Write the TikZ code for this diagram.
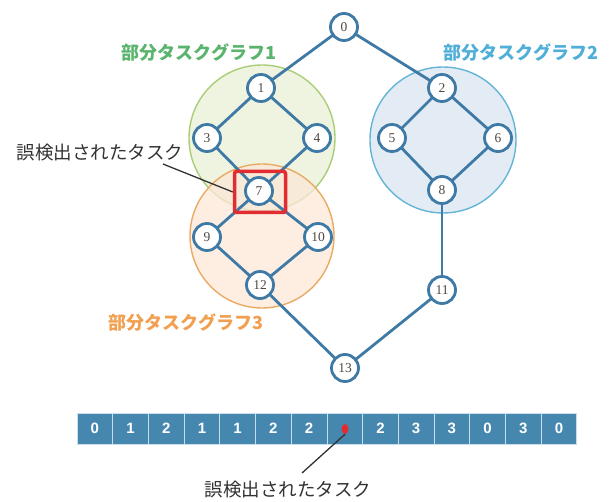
\documentclass[tikz,border=0pt]{standalone}
\usepackage{fontspec}
\usetikzlibrary{shapes.geometric}
\newfontfamily\cjk{Noto Sans CJK JP}
\newfontfamily\numfont{Liberation Serif}
\newfontfamily\barfont{Liberation Sans}
\definecolor{nodeblue}{RGB}{62,122,165}
\definecolor{gstroke}{RGB}{170,205,120}
\definecolor{gfill}{RGB}{232,240,212}
\definecolor{bstroke}{RGB}{100,180,215}
\definecolor{bfill}{RGB}{218,230,240}
\definecolor{ostroke}{RGB}{235,170,100}
\definecolor{ofill}{RGB}{252,232,215}
\definecolor{glabel}{RGB}{90,180,110}
\definecolor{blabel}{RGB}{80,175,215}
\definecolor{olabel}{RGB}{240,160,80}
\definecolor{redbox}{RGB}{225,45,50}
\definecolor{barfill}{RGB}{70,135,175}
\definecolor{barline}{RGB}{200,222,236}
\definecolor{numgray}{RGB}{80,72,64}
\definecolor{textgray}{RGB}{50,50,50}
\pgfdeclarelayer{groups}
\pgfdeclarelayer{edges}
\pgfsetlayers{groups,edges,main}
\begin{document}
\begin{tikzpicture}[x=1pt,y=-1pt,
  tnode/.style={circle,draw=nodeblue,line width=2.8pt,fill=white,minimum size=27pt,inner sep=0pt,font=\numfont\fontsize{13.5}{13.5}\selectfont,text=numgray},
  tedge/.style={draw=nodeblue,line width=2.8pt},
  group/.style={circle,line width=1.4pt,inner sep=0pt,fill opacity=0.75},
  glab/.style={font=\cjk\bfseries\fontsize{18}{18}\selectfont,inner sep=0pt},
  cell/.style={rectangle,fill=barfill,draw=barline,line width=0.8pt,minimum width=35.7pt,minimum height=31pt,inner sep=0pt,text=white,font=\barfont\bfseries\fontsize{15}{15}\selectfont},
  pointer/.style={draw=textgray,line width=1.3pt}]
\useasboundingbox (0,0) rectangle (610,502);
% subgraph circles
\begin{pgfonlayer}{groups}
\node[group,draw=gstroke,fill=gfill,minimum size=146pt] (g1) at (262,138) {};
\node[group,draw=bstroke,fill=bfill,minimum size=146pt] (g2) at (443,140) {};
\node[group,draw=ostroke,fill=ofill,minimum size=144pt] (g3) at (262,236) {};
\end{pgfonlayer}
% task nodes
\node[tnode] (n0) at (344,27) {0};
\node[tnode] (n1) at (261,88) {1};
\node[tnode] (n2) at (442,88) {2};
\node[tnode] (n3) at (207,138) {3};
\node[tnode] (n4) at (317,138) {4};
\node[tnode] (n5) at (392,138) {5};
\node[tnode] (n6) at (498,138) {6};
\node[tnode] (n7) at (259,191) {7};
\node[tnode] (n8) at (442,190) {8};
\node[tnode] (n9) at (207,237) {9};
\node[tnode] (n10) at (318,237) {10};
\node[tnode] (n11) at (442,290) {11};
\node[tnode] (n12) at (260,285) {12};
\node[tnode] (n13) at (345,368) {13};
\begin{pgfonlayer}{edges}
\foreach \a/\b in {n0/n1,n0/n2,n1/n3,n1/n4,n3/n7,n4/n7,n2/n5,n2/n6,n5/n8,n6/n8,n7/n9,n7/n10,n9/n12,n10/n12,n12/n13,n8/n11,n11/n13}
  \draw[tedge] (\a.center) -- (\b.center);
\end{pgfonlayer}
% red square
\node[draw=redbox,line width=3.5pt,rounded corners=2pt,minimum width=51pt,minimum height=41pt,inner sep=0pt] (sq) at (260,192) {};
% labels
\node[glab,text=glabel] (l1) at (199,53) {部分タスクグラフ1};
\node[glab,text=blabel] (l2) at (521,53) {部分タスクグラフ2};
\node[glab,text=olabel] (l3) at (186,323) {部分タスクグラフ3};
\node[font=\cjk\fontsize{18.5}{18.5}\selectfont,text=textgray,inner sep=0pt] (e1) at (100,153) {誤検出されたタスク};
\coordinate (e1end) at (163,164);
\draw[pointer] (e1end) -- (sq.west);
% bar
\foreach \v [count=\i from 0] in {0,1,2,1,1,2,2,{},2,3,3,0,3,0}
  \node[cell] (c\i) at ({77+35.7*\i+17.85},428.5) {\v};
\node[ellipse,fill=redbox,minimum width=7pt,minimum height=10pt,inner sep=0pt] (mark) at (345,429) {};
\node[font=\cjk\fontsize{18.5}{18.5}\selectfont,text=textgray,inner sep=0pt] (e2) at (288,490) {誤検出されたタスク};
\coordinate (e2end) at (302,473);
\draw[pointer] (mark.south) -- (e2end);
\end{tikzpicture}
\end{document}
